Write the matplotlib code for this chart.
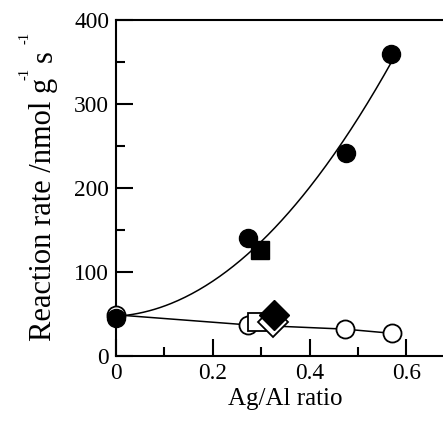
import numpy as np
import matplotlib
matplotlib.use("Agg")
import matplotlib.pyplot as plt
from matplotlib.ticker import MultipleLocator

plt.rcParams['font.family'] = ['Liberation Serif', 'DejaVu Serif']

# data
filled_circle_x = [0.0, 0.273, 0.475, 0.568]
filled_circle_y = [44.7, 141, 242, 360]
filled_square_x = [0.2975]
filled_square_y = [126]
open_circle_x = [0.0, 0.273, 0.473, 0.570]
open_circle_y = [49, 37, 32, 27]
open_square_x = [0.292]
open_square_y = [40.7]
filled_diamond_x = [0.327]
filled_diamond_y = [48.7]
open_diamond_x = [0.324]
open_diamond_y = [40.7]

W, H = 443, 423
fig = plt.figure(figsize=(W / 100, H / 100), dpi=100)
ax = fig.add_axes([0.2619, 0.1584, 0.7648, 0.7943])

# fitted trend curve through filled symbols
fx = np.array(filled_circle_x + filled_square_x)
fy = np.array(filled_circle_y + filled_square_y)
coef = np.polyfit(fx, fy, 2)
xc = np.linspace(0, max(filled_circle_x), 200)
ax.plot(xc, np.polyval(coef, xc), color='black', lw=1.1, zorder=2)

# lower line through open circles
ax.plot(open_circle_x, open_circle_y, color='black', lw=1.1, zorder=2)

ms = 13
ax.plot(open_circle_x, open_circle_y, 'o', ms=ms, mfc='white', mec='black', mew=1.3, zorder=3, clip_on=False)
ax.plot(open_square_x, open_square_y, 's', ms=ms, mfc='white', mec='black', mew=1.3, zorder=3.1)
ax.plot(open_diamond_x, open_diamond_y, 'D', ms=15, mfc='white', mec='black', mew=1.3, zorder=3.2)
ax.plot(filled_diamond_x, filled_diamond_y, 'D', ms=15, mfc='black', mec='black', zorder=4)
ax.plot(filled_square_x, filled_square_y, 's', ms=ms, mfc='black', mec='black', zorder=4)
ax.plot(filled_circle_x, filled_circle_y, 'o', ms=ms, mfc='black', mec='black', zorder=4, clip_on=False)

ax.set_xlim(0, 0.7)
ax.set_ylim(0, 400)
ax.xaxis.set_minor_locator(MultipleLocator(0.1))
ax.yaxis.set_major_locator(MultipleLocator(100))
ax.yaxis.set_minor_locator(MultipleLocator(50))
ax.set_xticks([0, 0.2, 0.4, 0.6])
ax.set_xticklabels(['0', '0.2', '0.4', '0.6'])
ax.tick_params(which='both', direction='in', top=False, right=False, width=1.5, labelsize=16.8, pad=5)
ax.tick_params(which='major', length=12)
ax.tick_params(which='minor', length=6.5)
for s in ax.spines.values():
    s.set_linewidth(1.5)

ax.set_xlabel('Ag/Al ratio', fontsize=18, labelpad=3)

# y label built from pieces (main text + small raised superscripts)
def ftext(px, py, s, size):
    fig.text(px / W, 1 - py / H, s, fontsize=size, rotation=90,
             rotation_mode='anchor', ha='left', va='baseline')

ftext(51.5, 341, 'Reaction rate /nmol g', 22)
ftext(28.5, 80, '-1', 10.5)
ftext(51.5, 62, 's', 22)
ftext(28.5, 44, '-1', 10.5)

fig.savefig('out.png', dpi=100)
